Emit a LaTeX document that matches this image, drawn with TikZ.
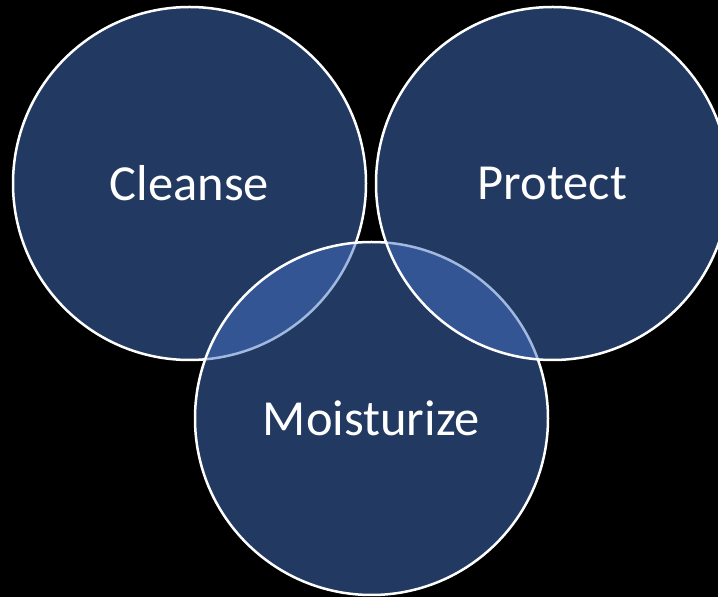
\documentclass[tikz,border=0pt]{standalone}
\usepackage{fontspec}
\setmainfont{Carlito}
\definecolor{accent}{HTML}{4472C4}
\begin{document}
\begin{tikzpicture}[x=1pt,y=1pt,
  venn/.style={circle, minimum size=353pt, inner sep=0pt, draw=white, line width=2.5pt,
    fill=accent, fill opacity=0.5, draw opacity=1, text opacity=1, text=white,
    font=\fontsize{50.5}{60}\selectfont}]
\fill[black] (0,0) rectangle (718,597);
\useasboundingbox (0,0) rectangle (718,597);
\node[venn] (c1) at (189.5,413.5) {Cleanse};
\node[venn] (c3) at (371.5,178.5) {Moisturize};
\node[venn] (c2) at (552.5,413.5) {Protect};
\end{tikzpicture}
\end{document}
